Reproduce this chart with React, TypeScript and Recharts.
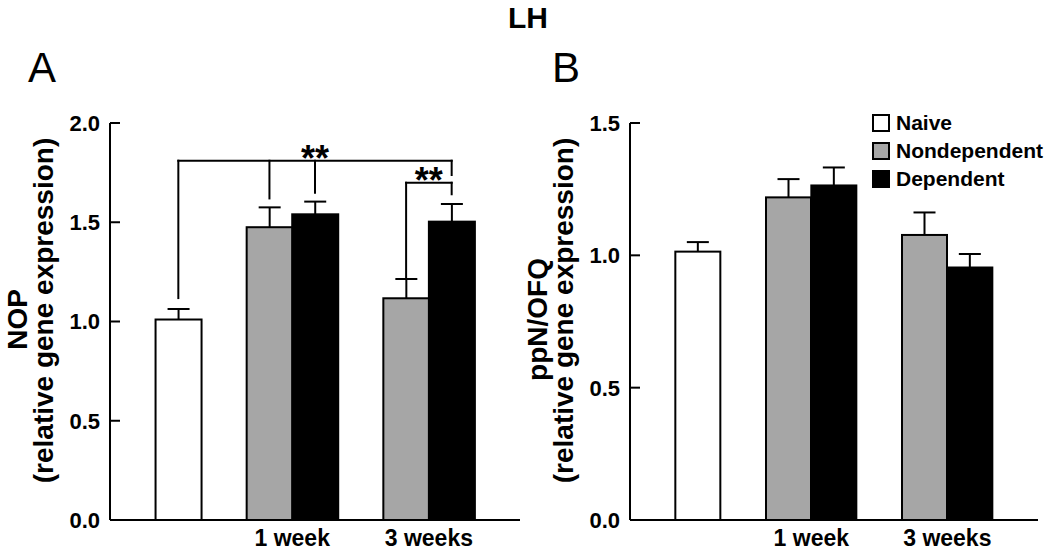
import { BarChart, Bar, XAxis, YAxis, ReferenceLine, ReferenceArea, Legend } from 'recharts';

const FONT = '"Liberation Sans", Arial, Helvetica, sans-serif';

// groups / series
const seriesNames = ['Naive', 'Nondependent', 'Dependent'];
const seriesColors = ['#ffffff', '#a6a6a6', '#000000'];
const periods = ['1 week', '3 weeks'];

// A : NOP (relative gene expression)
const nopNaive = 1.01;
const nopNaiveErr = 0.053;
const nopNondep = [1.475, 1.117];
const nopNondepErr = [0.1, 0.097];
const nopDep = [1.54, 1.503];
const nopDepErr = [0.064, 0.089];
const nopTicks = [0, 0.5, 1, 1.5, 2];

// B : ppN/OFQ (relative gene expression)
const ppnNaive = 1.014;
const ppnNaiveErr = 0.036;
const ppnNondep = [1.219, 1.077];
const ppnNondepErr = [0.069, 0.085];
const ppnDep = [1.264, 0.954];
const ppnDepErr = [0.068, 0.051];
const ppnTicks = [0, 0.5, 1, 1.5];

// significance brackets on panel A (data units)
const nopBrackets = [
  {
    from: 'naive', to: 'd1', level: 1.81, text: '**',
    drops: [
      { at: 'naive', to: 1.118 },
      { at: 'nd0', to: 1.62 },
      { at: 'd0', to: 1.649 },
      { at: 'd1', to: 1.738 },
    ],
  },
  {
    from: 'nd1', to: 'd1', level: 1.699, text: '**',
    drops: [
      { at: 'nd1', to: 1.214 },
      { at: 'd1', to: 1.641 },
    ],
  },
];

// one slot per bar, with empty slots between the groups
function buildSlots(naive: number, naiveErr: number, nondep: number[], nondepErr: number[], dep: number[], depErr: number[]) {
  const rows: any[] = [{ slot: 'pad' }, { slot: 'naive', naive, err: naiveErr }, { slot: 'gap' }];
  periods.forEach((_, i) => {
    rows.push({ slot: `nd${i}`, nondep: nondep[i], err: nondepErr[i] });
    rows.push({ slot: `d${i}`, dep: dep[i], err: depErr[i] });
    rows.push({ slot: `gap${i}` });
  });
  return rows;
}

const nopData = buildSlots(nopNaive, nopNaiveErr, nopNondep, nopNondepErr, nopDep, nopDepErr);
const ppnData = buildSlots(ppnNaive, ppnNaiveErr, ppnNondep, ppnNondepErr, ppnDep, ppnDepErr);

// bar with its upper error whisker
const ErrBar = (props: any) => {
  const { x, y, width, height, fill, payload, value } = props;
  if (!height || height <= 0 || payload.err == null) return <g />;
  const span = Array.isArray(value) ? value[1] - value[0] : value;
  const perUnit = height / span;
  const top = y - payload.err * perUnit;
  const cx = x + width / 2;
  return (
    <g>
      <line x1={cx} x2={cx} y1={y} y2={top} stroke="#000" strokeWidth={2} />
      <line x1={cx - 11} x2={cx + 11} y1={top} y2={top} stroke="#000" strokeWidth={2} />
      <rect x={x} y={y} width={width} height={height} fill={fill} stroke="#000" strokeWidth={2} />
    </g>
  );
};

// inward tick marks + bold labels
const YTick = (props: any) => {
  const { x, y, payload } = props;
  return (
    <g>
      <line x1={x + 10} x2={x + 20} y1={y} y2={y} stroke="#000" strokeWidth={2} />
      <text x={x} y={y} dy="0.36em" textAnchor="end" fontFamily={FONT} fontWeight="bold" fontSize={22} fill="#000">
        {Number(payload.value).toFixed(1)}
      </text>
    </g>
  );
};

const axisTitle = (first: string) => (props: any) => {
  const vb = props.viewBox;
  const cy = vb.y + vb.height / 2;
  const x1 = vb.x + 27;
  const x2 = vb.x + 53;
  return (
    <g fontFamily={FONT} fontWeight="bold" fontSize={28} fill="#000">
      <text x={x1} y={cy - 2} textAnchor="middle" transform={`rotate(-90 ${x1} ${cy - 2})`}>{first}</text>
      <text x={x2} y={cy - 11} textAnchor="middle" transform={`rotate(-90 ${x2} ${cy - 11})`}>(relative gene expression)</text>
    </g>
  );
};

const LegendBox = (props: any) => {
  const items = [...(props.payload || [])].sort(
    (a: any, b: any) => seriesNames.indexOf(a.value) - seriesNames.indexOf(b.value)
  );
  return (
    <div style={{ fontFamily: FONT }}>
      {items.map((entry: any) => (
        <div key={entry.value} style={{ display: 'flex', alignItems: 'center', height: 28 }}>
          <span style={{ display: 'inline-block', width: 14, height: 14, border: '2px solid #000', background: entry.color, marginRight: 6 }} />
          <span style={{ fontSize: 21, fontWeight: 'bold', color: '#000' }}>{entry.value}</span>
        </div>
      ))}
    </div>
  );
};

function Panel({ data, ticks, title, brackets, showLegend, width, marginRight }: any) {
  const max = ticks[ticks.length - 1];
  return (
    <BarChart width={width} height={552} data={data} barCategoryGap={0} margin={{ top: 123, right: marginRight, bottom: 0, left: 0 }}>
      <XAxis
        xAxisId="slots"
        dataKey="slot"
        height={32}
        tick={false}
        tickLine={false}
        axisLine={{ stroke: '#000', strokeWidth: 2 }}
      />
      <YAxis
        width={110}
        domain={[0, max]}
        ticks={ticks}
        interval={0}
        tickLine={false}
        tickSize={0}
        tickMargin={10}
        tick={<YTick />}
        axisLine={{ stroke: '#000', strokeWidth: 2 }}
        label={axisTitle(title)}
      />
      {showLegend && (
        <Legend
          layout="vertical"
          align="center"
          verticalAlign="middle"
          itemSorter={null}
          content={<LegendBox />}
          wrapperStyle={{ left: 352, top: 109, width: 180 }}
        />
      )}
      <Bar xAxisId="slots" dataKey="naive" name={seriesNames[0]} stackId="s" fill={seriesColors[0]} shape={<ErrBar />} isAnimationActive={false} />
      <Bar xAxisId="slots" dataKey="nondep" name={seriesNames[1]} stackId="s" fill={seriesColors[1]} shape={<ErrBar />} isAnimationActive={false} />
      <Bar xAxisId="slots" dataKey="dep" name={seriesNames[2]} stackId="s" fill={seriesColors[2]} shape={<ErrBar />} isAnimationActive={false} />
      {periods.map((p, i) => (
        <ReferenceArea
          key={p}
          xAxisId="slots"
          x1={`nd${i}`}
          x2={`d${i}`}
          y1={0}
          y2={0.01}
          fill="none"
          fillOpacity={0}
          stroke="none"
          label={{ value: p, position: 'bottom', offset: 10, fill: '#000', fontSize: 23, fontWeight: 'bold', fontFamily: FONT }}
        />
      ))}
      {(brackets || []).flatMap((b: any, i: number) => [
        <ReferenceLine
          key={`h${i}`}
          xAxisId="slots"
          segment={[{ x: b.from, y: b.level }, { x: b.to, y: b.level }]}
          stroke="#000"
          strokeWidth={2}
          strokeLinecap="square"
          label={{ value: b.text, position: 'top', offset: -10, fill: '#000', fontSize: 36, fontWeight: 'bold', fontFamily: FONT }}
        />,
        ...b.drops.map((d: any, j: number) => (
          <ReferenceLine
            key={`v${i}-${j}`}
            xAxisId="slots"
            segment={[{ x: d.at, y: b.level }, { x: d.at, y: d.to }]}
            stroke="#000"
            strokeWidth={2}
            strokeLinecap="square"
          />
        )),
      ])}
    </BarChart>
  );
}

export default function App() {
  return (
    <div style={{ position: 'absolute', left: 0, top: 0, width: 1050, height: 552, background: '#fff', overflow: 'hidden' }}>
      <div style={{ position: 'absolute', left: 0, top: 0 }}>
        <Panel data={nopData} ticks={nopTicks} title="NOP" brackets={nopBrackets} width={525} marginRight={5} />
      </div>
      <div style={{ position: 'absolute', left: 520, top: 0 }}>
        <Panel data={ppnData} ticks={ppnTicks} title="ppN/OFQ" showLegend width={530} marginRight={12} />
      </div>
      <svg width={1050} height={552} style={{ position: 'absolute', left: 0, top: 0, pointerEvents: 'none' }}>
        <text x={528} y={28} textAnchor="middle" fontFamily={FONT} fontWeight="bold" fontSize={30} fill="#000">LH</text>
        <text x={28} y={82} fontFamily={FONT} fontSize={42} fill="#000">A</text>
        <text x={552} y={82} fontFamily={FONT} fontSize={42} fill="#000">B</text>
      </svg>
    </div>
  );
}
